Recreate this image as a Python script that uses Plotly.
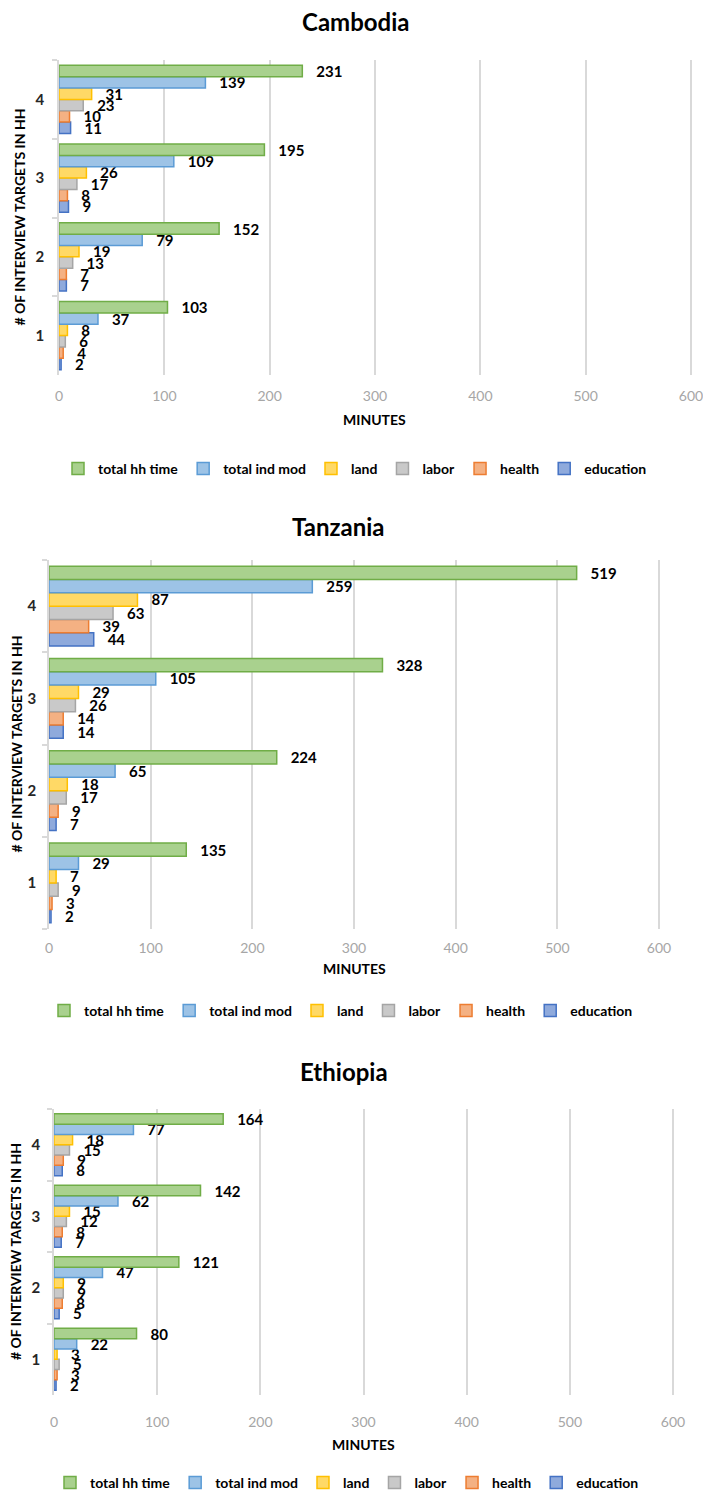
import plotly.graph_objects as go

W, H = 703, 1499

categories = ["1", "2", "3", "4"]
series_names = ["education", "health", "labor", "land", "total ind mod", "total hh time"]
tick_values = [0, 100, 200, 300, 400, 500, 600]
country_names = ["Cambodia", "Tanzania", "Ethiopia"]

# Cambodia (categories 1..4)
cambodia_total_hh_time = [103, 152, 195, 231]
cambodia_total_ind_mod = [37, 79, 109, 139]
cambodia_land = [8, 19, 26, 31]
cambodia_labor = [6, 13, 17, 23]
cambodia_health = [4, 7, 8, 10]
cambodia_education = [2, 7, 9, 11]

# Tanzania
tanzania_total_hh_time = [135, 224, 328, 519]
tanzania_total_ind_mod = [29, 65, 105, 259]
tanzania_land = [7, 18, 29, 87]
tanzania_labor = [9, 17, 26, 63]
tanzania_health = [3, 9, 14, 39]
tanzania_education = [2, 7, 14, 44]

# Ethiopia
ethiopia_total_hh_time = [80, 121, 142, 164]
ethiopia_total_ind_mod = [22, 47, 62, 77]
ethiopia_land = [3, 9, 15, 18]
ethiopia_labor = [5, 9, 12, 15]
ethiopia_health = [3, 8, 8, 9]
ethiopia_education = [2, 5, 7, 8]

data = {
    "Cambodia": [cambodia_education, cambodia_health, cambodia_labor, cambodia_land,
                 cambodia_total_ind_mod, cambodia_total_hh_time],
    "Tanzania": [tanzania_education, tanzania_health, tanzania_labor, tanzania_land,
                 tanzania_total_ind_mod, tanzania_total_hh_time],
    "Ethiopia": [ethiopia_education, ethiopia_health, ethiopia_labor, ethiopia_land,
                 ethiopia_total_ind_mod, ethiopia_total_hh_time],
}

fill_colors = ["#8FAADC", "#F4B183", "#C9C9C9", "#FFD966", "#9DC3E6", "#A9D18E"]
line_colors = ["#4472C4", "#ED7D31", "#A5A5A5", "#FFC000", "#5B9BD5", "#70AD47"]

FONT = "Lato, Carlito, 'Open Sans', sans-serif"
X_MAX = 601  # small headroom so the 600 gridline is drawn

# layout boxes in pixels: (left, right at 600, top, bottom)
panels = {
    "Cambodia": dict(box=(59, 691, 60, 375), title=(355, 22), legend=(355, 469, "middle"),
                     xtitle_y=420, ytitle_x=19, x_standoff=11, y_standoff=10),
    "Tanzania": dict(box=(49, 659, 560, 929), title=(338, 526), legend=(341, 1011, "middle"),
                     xtitle_y=969, ytitle_x=16, x_standoff=9, y_standoff=8),
    "Ethiopia": dict(box=(54, 673, 1109, 1395), title=(344, 1071), legend=(347, 1499, "bottom"),
                     xtitle_y=1444, ytitle_x=15, x_standoff=17, y_standoff=9),
}


def px_x(v):
    return v / W


def px_y(v):
    return 1 - v / H


fig = go.Figure()
annotations = []
layout_extra = {}

for i, country in enumerate(country_names, start=1):
    p = panels[country]
    left, right, top, bottom = p["box"]
    right_edge = left + (right - left) * X_MAX / 600
    sfx = "" if i == 1 else str(i)
    legend_id = "legend" + sfx
    for name, vals, fc, lc in zip(series_names, data[country], fill_colors, line_colors):
        fig.add_trace(go.Bar(
            x=vals, y=categories, orientation="h", name=name,
            marker=dict(color=fc, line=dict(color=lc, width=1.5)),
            text=vals, texttemplate="   %{x}", textposition="outside",
            textfont=dict(family=FONT, size=15, color="#000000", weight="bold"),
            constraintext="none", cliponaxis=False,
            xaxis="x" + sfx, yaxis="y" + sfx, legend=legend_id,
            hoverinfo="skip",
        ))

    layout_extra["xaxis" + sfx] = dict(
        domain=[px_x(left), px_x(right_edge)], range=[0, X_MAX], automargin=False,
        tickvals=tick_values, showgrid=True, gridcolor="#D9D9D9", gridwidth=1.5,
        zeroline=False, showline=False, ticks="", anchor="y" + sfx,
        tickfont=dict(family=FONT, size=14, color="#A6A6A6"),
        ticklabelstandoff=p["x_standoff"], ticklabeloverflow="allow", fixedrange=True,
    )
    layout_extra["yaxis" + sfx] = dict(
        domain=[px_y(bottom), px_y(top)], type="category", automargin=False,
        categoryorder="array", categoryarray=categories,
        showline=True, linecolor="#D9D9D9", linewidth=1.5,
        ticks="outside", tickson="boundaries", ticklen=5, tickcolor="#D9D9D9",
        tickwidth=1.5, showgrid=False, zeroline=False, anchor="x" + sfx,
        tickfont=dict(family=FONT, size=15, color="#262626", weight="bold"),
        ticklabelstandoff=p["y_standoff"], ticklabeloverflow="allow", fixedrange=True,
    )
    lx, ly, lanchor = p["legend"]
    layout_extra[legend_id] = dict(
        orientation="h", x=px_x(lx), y=px_y(ly), xanchor="center", yanchor=lanchor,
        traceorder="reversed", bgcolor="rgba(0,0,0,0)",
        font=dict(family=FONT, size=14, color="#000000", weight="bold"),
    )

    tx, ty = p["title"]
    annotations.append(dict(
        text=country, x=px_x(tx), y=px_y(ty), xref="paper", yref="paper",
        xanchor="center", yanchor="middle", showarrow=False,
        font=dict(family=FONT, size=24, color="#000000", weight="bold"),
    ))
    annotations.append(dict(
        text="MINUTES", x=px_x((left + right) / 2), y=px_y(p["xtitle_y"]),
        xref="paper", yref="paper", xanchor="center", yanchor="middle", showarrow=False,
        font=dict(family=FONT, size=14, color="#000000", weight="bold"),
    ))
    annotations.append(dict(
        text="# OF INTERVIEW TARGETS IN HH", x=px_x(p["ytitle_x"]),
        y=px_y((top + bottom) / 2), xref="paper", yref="paper",
        xanchor="center", yanchor="middle", textangle=-90, showarrow=False,
        font=dict(family=FONT, size=14, color="#000000", weight="bold"),
    ))

fig.update_layout(
    template="none",
    width=W, height=H, margin=dict(l=0, r=0, t=0, b=0),
    paper_bgcolor="white", plot_bgcolor="white",
    barmode="group", bargap=0.136, bargroupgap=0,
    annotations=annotations, **layout_extra,
)

fig.write_html("out.html", config={"displayModeBar": False})
